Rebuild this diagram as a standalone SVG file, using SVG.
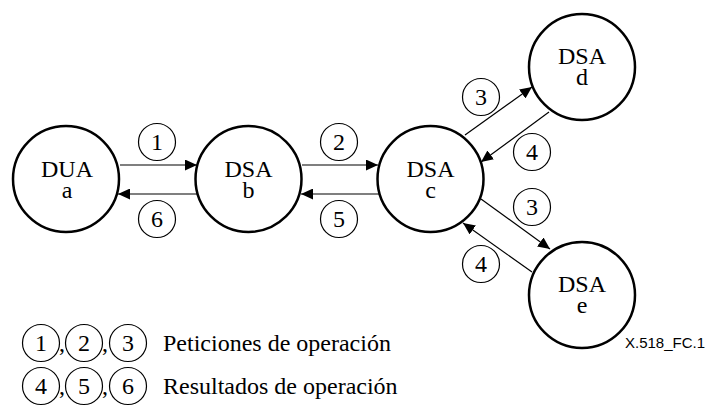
<svg xmlns="http://www.w3.org/2000/svg" width="709" height="410" viewBox="0 0 709 410">
  <defs>
    <marker id="ah" markerWidth="12" markerHeight="11" refX="12" refY="5.5" orient="auto" markerUnits="userSpaceOnUse">
      <path d="M0,0 L12,5.5 L0,11 z" fill="#000"/>
    </marker>
  </defs>
  <style>
    .node { fill: #fff; stroke: #000; stroke-width: 2.5; }
    .lab { fill: none; stroke: #000; stroke-width: 1.2; }
    .t { font-family: "Liberation Serif", "Times New Roman", serif; font-size: 24px; fill: #000; text-anchor: middle; }
    .tl { font-family: "Liberation Serif", "Times New Roman", serif; font-size: 24px; fill: #000; }
    .conn { stroke: #000; stroke-width: 1.2; fill: none; marker-end: url(#ah); }
    .fig { font-family: "Liberation Sans", Arial, sans-serif; font-size: 15px; fill: #000; }
  </style>
  <rect width="709" height="410" fill="#fff"/>

  <g id="connectors">
    <line class="conn" x1="120" y1="165" x2="197" y2="165"/>
    <line class="conn" x1="198" y1="194" x2="118" y2="194"/>
    <line class="conn" x1="302" y1="165" x2="378" y2="165"/>
    <line class="conn" x1="379" y1="194" x2="301" y2="194"/>
    <line class="conn" x1="465" y1="135" x2="532" y2="87"/>
    <line class="conn" x1="549" y1="112" x2="481" y2="162"/>
    <line class="conn" x1="481" y1="199" x2="550" y2="249"/>
    <line class="conn" x1="532" y1="272" x2="463" y2="223"/>
  </g>

  <g id="labels">
    <g id="lbl-1"><circle class="lab" cx="157" cy="142" r="18.5"/><text class="t" x="157" y="150">1</text></g>
    <g id="lbl-6"><circle class="lab" cx="157" cy="219" r="18.5"/><text class="t" x="157" y="227">6</text></g>
    <g id="lbl-2"><circle class="lab" cx="339" cy="142" r="18.5"/><text class="t" x="339" y="150">2</text></g>
    <g id="lbl-5"><circle class="lab" cx="339" cy="219" r="18.5"/><text class="t" x="339" y="227">5</text></g>
    <g id="lbl-3a"><circle class="lab" cx="481" cy="97" r="18.5"/><text class="t" x="481" y="105">3</text></g>
    <g id="lbl-4a"><circle class="lab" cx="532" cy="152" r="18.5"/><text class="t" x="532" y="160">4</text></g>
    <g id="lbl-3b"><circle class="lab" cx="532" cy="207" r="18.5"/><text class="t" x="532" y="215">3</text></g>
    <g id="lbl-4b"><circle class="lab" cx="481" cy="264" r="18.5"/><text class="t" x="481" y="272">4</text></g>
  </g>

  <g id="node-a">
    <circle class="node" cx="66" cy="179" r="53"/>
    <text class="t" x="67" y="177">DUA</text>
    <text class="t" x="67" y="198">a</text>
  </g>
  <g id="node-b">
    <circle class="node" cx="248.5" cy="179" r="53"/>
    <text class="t" x="248.5" y="177">DSA</text>
    <text class="t" x="248.5" y="198">b</text>
  </g>
  <g id="node-c">
    <circle class="node" cx="430.5" cy="179" r="53"/>
    <text class="t" x="430.5" y="177">DSA</text>
    <text class="t" x="430.5" y="198">c</text>
  </g>
  <g id="node-d">
    <circle class="node" cx="582" cy="67" r="53"/>
    <text class="t" x="582" y="64">DSA</text>
    <text class="t" x="582" y="85">d</text>
  </g>
  <g id="node-e">
    <circle class="node" cx="582" cy="295" r="53"/>
    <text class="t" x="582" y="292">DSA</text>
    <text class="t" x="582" y="313">e</text>
  </g>

  <text class="fig" x="625" y="348">X.518_FC.1</text>

  <g id="legend">
    <circle class="lab" cx="41" cy="343" r="18.5"/><text class="t" x="41" y="351">1</text>
    <text class="tl" x="59" y="351">,</text>
    <circle class="lab" cx="84" cy="343" r="18.5"/><text class="t" x="84" y="351">2</text>
    <text class="tl" x="102" y="351">,</text>
    <circle class="lab" cx="128" cy="343" r="18.5"/><text class="t" x="128" y="351">3</text>
    <text class="tl" x="163" y="351">Peticiones de operación</text>
    <circle class="lab" cx="41" cy="386" r="18.5"/><text class="t" x="41" y="394">4</text>
    <text class="tl" x="59" y="394">,</text>
    <circle class="lab" cx="84" cy="386" r="18.5"/><text class="t" x="84" y="394">5</text>
    <text class="tl" x="102" y="394">,</text>
    <circle class="lab" cx="128" cy="386" r="18.5"/><text class="t" x="128" y="394">6</text>
    <text class="tl" x="163" y="394">Resultados de operación</text>
  </g>
</svg>
